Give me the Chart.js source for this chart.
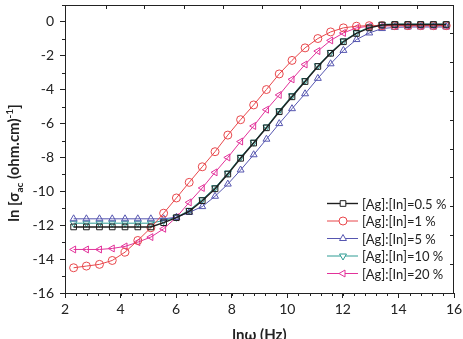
<!DOCTYPE html>
<html>
<head>
<meta charset="utf-8">
<script src="https://cdn.jsdelivr.net/npm/chart.js@4.4.0/dist/chart.umd.min.js"></script>
<style>
  body { margin: 0; background: #fff; }
  canvas { display: block; }
</style>
</head>
<body>
<canvas id="chart" width="463" height="339"></canvas>
<script>
// ln(omega) sampling points, 5 per decade
const lnOmega = [2.31, 2.77, 3.24, 3.70, 4.16, 4.62, 5.09, 5.55, 6.01, 6.47,
  6.94, 7.40, 7.86, 8.32, 8.79, 9.25, 9.71, 10.17, 10.64, 11.10,
  11.56, 12.02, 12.49, 12.95, 13.41, 13.87, 14.34, 14.80, 15.26, 15.72];

const ag05 = [-12.1, -12.1, -12.1, -12.1, -12.1, -12.1, -12.1, -11.85, -11.55, -11.18,
  -10.55, -9.85, -8.98, -8.05, -7.15, -6.25, -5.3, -4.42, -3.52, -2.63,
  -1.85, -1.17, -0.68, -0.35, -0.18, -0.15, -0.15, -0.15, -0.15, -0.15];
const ag1 = [-14.51, -14.41, -14.31, -14.08, -13.59, -12.9, -12.15, -11.29, -10.39, -9.47,
  -8.55, -7.66, -6.68, -5.77, -4.9, -3.99, -3.07, -2.27, -1.53, -0.98,
  -0.59, -0.35, -0.25, -0.22, -0.22, -0.22, -0.22, -0.22, -0.22, -0.22];
const ag5 = [-11.62, -11.62, -11.62, -11.62, -11.62, -11.62, -11.62, -11.62, -11.53, -11.24,
  -10.9, -10.29, -9.57, -8.74, -7.84, -6.92, -6.0, -5.12, -4.24, -3.33,
  -2.47, -1.68, -1.04, -0.65, -0.39, -0.32, -0.3, -0.3, -0.3, -0.3];
const ag10 = [-11.88, -11.88, -11.88, -11.88, -11.88, -11.88, -11.88, -11.72, -11.53, -11.12,
  -10.48, -9.78, -8.92, -7.98, -7.1, -6.2, -5.24, -4.35, -3.46, -2.58,
  -1.8, -1.12, -0.64, -0.3, -0.14, -0.12, -0.12, -0.12, -0.12, -0.12];
const ag20 = [-13.43, -13.43, -13.43, -13.37, -13.25, -13.0, -12.7, -12.21, -11.53, -10.65,
  -9.8, -8.88, -8.0, -7.06, -6.14, -5.18, -4.31, -3.39, -2.51, -1.72,
  -1.09, -0.65, -0.35, -0.25, -0.23, -0.23, -0.23, -0.23, -0.23, -0.23];

const seriesLabels = ["[Ag]:[In]=0.5 %", "[Ag]:[In]=1 %", "[Ag]:[In]=5 %", "[Ag]:[In]=10 %", "[Ag]:[In]=20 %"];

const xTicks = [2, 4, 6, 8, 10, 12, 14, 16];
const yTicks = [-16, -14, -12, -10, -8, -6, -4, -2, 0];
// odd mirror ticks on the top and right frame
const topTicks = [3.46, 4.83, 6.27, 7.69, 9.09, 10.47, 11.88, 13.27, 14.67];
const rightTicks = [-0.68, -2.38, -4.08, -5.78, -7.48, -9.18, -10.88, -12.58, -14.28];

const ink = "#222";
const pts = (ys) => ys.map((y, i) => ({ x: lnOmega[i], y }));

const mkSet = (label, ys, color, style, rot, bw) => ({
  label,
  data: pts(ys),
  borderColor: color,
  backgroundColor: "rgba(0,0,0,0)",
  borderWidth: bw,
  pointStyle: style,
  rotation: rot,
  pointRadius: 4,
  pointBorderWidth: 1,
  pointBorderColor: color,
  pointBackgroundColor: "rgba(0,0,0,0)",
  tension: 0,
});

const datasets = [
  mkSet(seriesLabels[0], ag05, "#1e1e1e", "rect", 0, 1.4),
  mkSet(seriesLabels[1], ag1, "#e8474b", "circle", 0, 1),
  mkSet(seriesLabels[2], ag5, "#5656b0", "triangle", 0, 1),
  mkSet(seriesLabels[3], ag10, "#2e9c94", "triangle", 180, 1),
  mkSet(seriesLabels[4], ag20, "#e2329a", "triangle", 270, 1),
];

const frame = {
  id: "frame",
  afterDraw(chart) {
    const { ctx, chartArea: a, scales } = chart;
    const xs = scales.x, ys = scales.y;
    ctx.save();
    ctx.strokeStyle = ink;
    ctx.lineWidth = 1;
    ctx.beginPath();
    ctx.moveTo(a.left, a.top + 0.5);
    ctx.lineTo(a.right, a.top + 0.5);
    ctx.moveTo(a.right - 0.5, a.top);
    ctx.lineTo(a.right - 0.5, a.bottom);
    // minor ticks bottom
    for (let v = 2; v <= 16.01; v += 0.4) {
      const px = Math.round(xs.getPixelForValue(v)) + 0.5;
      ctx.moveTo(px, a.bottom);
      ctx.lineTo(px, a.bottom + 3);
    }
    // minor ticks left
    for (let v = -15; v <= 1; v += 2) {
      const py = Math.round(ys.getPixelForValue(v)) + 0.5;
      ctx.moveTo(a.left, py);
      ctx.lineTo(a.left - 3, py);
    }
    topTicks.forEach((v) => {
      const px = Math.round(xs.getPixelForValue(v)) + 0.5;
      ctx.moveTo(px, a.top);
      ctx.lineTo(px, a.top + 4);
    });
    rightTicks.forEach((v) => {
      const py = Math.round(ys.getPixelForValue(v)) + 0.5;
      ctx.moveTo(a.right, py);
      ctx.lineTo(a.right - 4, py);
    });
    ctx.stroke();

    // axis titles
    ctx.fillStyle = ink;
    ctx.textBaseline = "alphabetic";
    ctx.textAlign = "center";
    ctx.font = "bold 15px Lato";
    ctx.fillText("ln\u03c9 (Hz)", (a.left + a.right) / 2, 340);

    ctx.save();
    ctx.translate(19, 163);
    ctx.rotate(-Math.PI / 2);
    ctx.textAlign = "left";
    const parts = [
      ["ln [\u03c3", "bold 15px Lato", 0],
      ["ac", "bold 10px Lato", 4],
      [" (ohm.cm)", "bold 15px Lato", 0],
      ["-1", "bold 10px Lato", -6],
      ["]", "bold 15px Lato", 0],
    ];
    let w = 0;
    parts.forEach((p) => { ctx.font = p[1]; w += ctx.measureText(p[0]).width; });
    let x = -w / 2;
    parts.forEach((p) => {
      ctx.font = p[1];
      ctx.fillText(p[0], x, p[2]);
      x += ctx.measureText(p[0]).width;
    });
    ctx.restore();

    // legend
    ctx.font = "13px Lato";
    ctx.textAlign = "left";
    ctx.textBaseline = "middle";
    chart.data.datasets.forEach((ds, i) => {
      const y = 203.5 + i * 17.5;
      ctx.strokeStyle = ds.borderColor;
      ctx.lineWidth = ds.borderWidth;
      ctx.beginPath();
      ctx.moveTo(327, y);
      ctx.lineTo(358, y);
      ctx.stroke();
      ctx.fillStyle = "#fff";
      ctx.lineWidth = 1;
      Chart.helpers.drawPoint(ctx, {
        pointStyle: ds.pointStyle, rotation: ds.rotation, radius: 4, borderWidth: 1,
      }, 343, y);
      ctx.fillStyle = ink;
      ctx.fillText(ds.label, 362, y + 1);
    });
    ctx.restore();
  },
};

new Chart(document.getElementById("chart"), {
  type: "line",
  data: { datasets },
  options: {
    responsive: false,
    animation: false,
    layout: { padding: { left: 0, right: 9, top: 4, bottom: 0 } },
    plugins: { legend: { display: false }, tooltip: { enabled: false } },
    scales: {
      x: {
        type: "linear",
        min: 2,
        max: 16,
        afterBuildTicks: (s) => { s.ticks = xTicks.map((v) => ({ value: v })); },
        afterFit: (s) => { s.height = 46; s.paddingLeft = 0; s.paddingRight = 0; },
        grid: { drawOnChartArea: false, tickLength: 5, color: ink },
        border: { color: ink, width: 1 },
        ticks: { color: ink, font: { family: "Lato", size: 14 }, padding: 3, maxRotation: 0 },
      },
      y: {
        min: -16,
        max: 1,
        afterBuildTicks: (s) => { s.ticks = yTicks.map((v) => ({ value: v })); },
        afterFit: (s) => { s.width = 65; s.paddingTop = 0; s.paddingBottom = 0; },
        grid: { drawOnChartArea: false, tickLength: 5, color: ink },
        border: { color: ink, width: 1 },
        ticks: { color: ink, font: { family: "Lato", size: 14 }, padding: 6 },
      },
    },
  },
  plugins: [frame],
});
</script>
</body>
</html>
